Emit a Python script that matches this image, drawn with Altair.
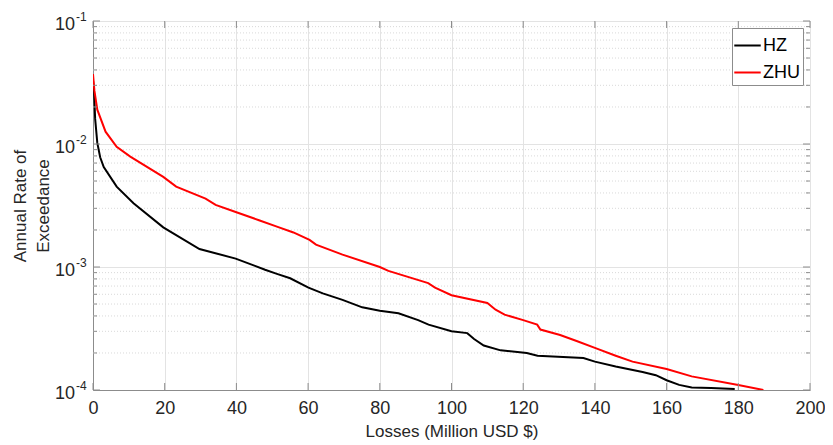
import altair as alt
import pandas as pd

hz_loss = [0, 0.3, 0.6, 1.2, 2.0, 3.0, 6.6, 11.3, 19.6, 29.7, 39.8, 48.0, 51.3, 55.0, 60.1, 64.1,
           69.6, 75.1, 80.0, 85.2, 90.7, 93.6, 100.0, 104.4, 106.3, 109.0, 113.7, 121.0, 124.0,
           136.8, 140.0, 145.8, 153.3, 157.0, 160.0, 163.5, 167.0, 172.4, 179.0]
hz_rate = [0.033, 0.026, 0.016, 0.0102, 0.0078, 0.0065, 0.0045, 0.0033, 0.0021, 0.0014, 0.00117,
           0.00095, 0.00088, 0.00081, 0.00068, 0.00061, 0.00054, 0.00047, 0.00044, 0.00042,
           0.00037, 0.00034, 0.00030, 0.00029, 0.00026, 0.00023, 0.00021, 0.00020, 0.00019,
           0.000182, 0.00017, 0.000155, 0.00014, 0.000132, 0.00012, 0.00011, 0.000105,
           0.000104, 0.000102]

zhu_loss = [0, 0.4, 1.2, 3.5, 6.6, 10.4, 19.6, 23.2, 31.4, 34.2, 39.8, 46.3, 51.3, 55.9, 60.4,
            62.2, 69.6, 80.0, 82.4, 93.5, 95.4, 100.0, 110.0, 112.3, 114.8, 120.0, 123.9, 124.8,
            130.3, 134.9, 140.0, 145.8, 150.5, 160.0, 167.0, 180.0, 187.0]
zhu_rate = [0.037, 0.027, 0.019, 0.0126, 0.0095, 0.0079, 0.0054, 0.0045, 0.0036, 0.0032, 0.0028,
            0.0024, 0.00213, 0.00191, 0.00166, 0.00152, 0.00126, 0.0010, 0.00093, 0.00074,
            0.00068, 0.00059, 0.00051, 0.00045, 0.00041, 0.00037, 0.00034, 0.00031, 0.00028,
            0.00025, 0.00022, 0.00019, 0.00017, 0.000148, 0.000129, 0.00011, 0.0001]

x_ticks = [0, 20, 40, 60, 80, 100, 120, 140, 160, 180, 200]
y_major = [1e-4, 1e-3, 1e-2, 1e-1]
y_exp = ["-4", "-3", "-2", "-1"]
y_minor = [m * 10.0 ** e for e in (-4, -3, -2) for m in range(2, 10)]

W, H = 717, 369
FONT = "Liberation Sans"
GRID = "#e3e3e3"
AX = "#8c8c8c"
TXT = "#262626"

df = pd.concat([
    pd.DataFrame({"loss": hz_loss, "rate": hz_rate, "series": "HZ"}),
    pd.DataFrame({"loss": zhu_loss, "rate": zhu_rate, "series": "ZHU"}),
])
major_df = pd.DataFrame({"v": y_major, "exp": y_exp})
minor_df = pd.DataFrame({"v": y_minor})
xt_df = pd.DataFrame({"x": x_ticks})

xs = alt.Scale(domain=[0, 200], nice=False)
ys = alt.Scale(type="log", domain=[1e-4, 1e-1], nice=False)

minor_grid = alt.Chart(minor_df).mark_rule(color="#d9d9d9", strokeDash=[1, 2], strokeWidth=1).encode(
    y=alt.Y("v:Q", scale=ys), x=alt.value(0), x2=alt.value(W))

lines = alt.Chart(df).mark_line(strokeWidth=2, clip=True).encode(
    x=alt.X("loss:Q", scale=xs,
            axis=alt.Axis(values=x_ticks, grid=True, gridColor=GRID, ticks=False, labelFlush=False,
                          labelFontSize=18, labelPadding=9, labelColor=TXT,
                          title="Losses (Million USD $)", titleFontSize=17, titleFontWeight="normal",
                          titleColor=TXT, titlePadding=6, domainColor=AX)),
    y=alt.Y("rate:Q", scale=ys,
            axis=alt.Axis(values=y_major, grid=True, gridColor=GRID, ticks=False, labels=False,
                          labelFlush=False,
                          title=["Annual Rate of", "Exceedance"], titleFontSize=17,
                          titleLineHeight=23, titleFontWeight="normal", titleColor=TXT,
                          titlePadding=41, domainColor=AX)),
    color=alt.Color("series:N", scale=alt.Scale(domain=["HZ", "ZHU"], range=["#000000", "#ff0000"]),
                    legend=alt.Legend(title=None, orient="top-right", offset=7, symbolType="stroke",
                                      symbolSize=700, symbolStrokeWidth=2, labelFontSize=18,
                                      labelColor="#000000", strokeColor=AX, fillColor="white",
                                      padding=3, rowPadding=3, symbolOffset=-2, labelOffset=1)),
)

def yticks(data, x0, x1):
    return alt.Chart(data).mark_rule(color=AX).encode(
        y=alt.Y("v:Q", scale=ys), x=alt.value(x0), x2=alt.value(x1))

xtick_b = alt.Chart(xt_df).mark_rule(color=AX).encode(
    x=alt.X("x:Q", scale=xs), y=alt.value(H), y2=alt.value(H - 7))
xtick_t = alt.Chart(xt_df).mark_rule(color=AX).encode(
    x=alt.X("x:Q", scale=xs), y=alt.value(0), y2=alt.value(7))

lab10 = alt.Chart(major_df).mark_text(align="right", baseline="middle", fontSize=18, font=FONT,
                                     color=TXT, dy=4).encode(
    y=alt.Y("v:Q", scale=ys), x=alt.value(-18), text=alt.value("10"))
labexp = alt.Chart(major_df).mark_text(align="left", baseline="middle", fontSize=12, font=FONT,
                                      color=TXT, dy=-4).encode(
    y=alt.Y("v:Q", scale=ys), x=alt.value(-17), text="exp:N")

chart = alt.layer(
    minor_grid, lines,
    yticks(major_df, 0, 7), yticks(minor_df, 0, 4),
    yticks(major_df, W - 7, W), yticks(minor_df, W - 4, W),
    xtick_b, xtick_t, lab10, labexp,
).properties(
    width=W, height=H,
    autosize=alt.AutoSizeParams(type="none"),
    padding={"left": 85, "top": 13, "right": 15, "bottom": 55},
).configure_view(stroke=AX, strokeWidth=1).configure(font=FONT, background="white")

chart.save("out.html", embed_options={"renderer": "svg", "actions": False})
